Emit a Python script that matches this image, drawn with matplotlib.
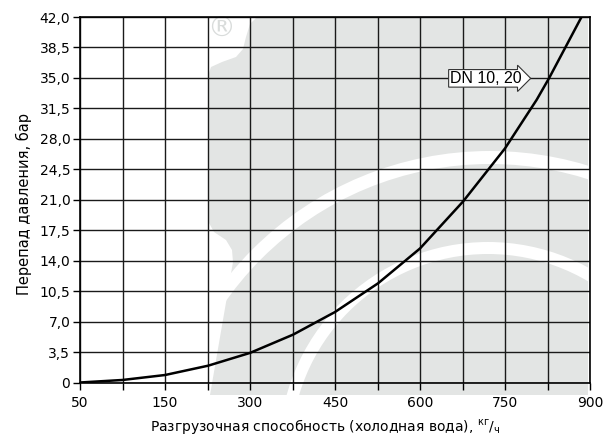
import matplotlib
matplotlib.use("Agg")
import matplotlib.pyplot as plt
from matplotlib.transforms import Affine2D
from matplotlib.patches import Polygon, Circle
from matplotlib.ticker import FixedLocator

# ---- data ----
flow = [0, 75, 150, 226, 300, 376, 450, 526, 600, 676, 750, 806, 828, 885]
dp = [0, 0.29, 0.86, 1.93, 3.4, 5.5, 8.1, 11.4, 15.4, 20.8, 26.9, 32.5, 35.0, 42.0]
x_major = [0, 150, 300, 450, 600, 750, 900]
x_major_labels = ["50", "150", "300", "450", "600", "750", "900"]
x_minor = [75, 225, 375, 525, 675, 825]
y_ticks = [0, 3.5, 7, 10.5, 14, 17.5, 21, 24.5, 28, 31.5, 35, 38.5, 42]
y_labels = ["0", "3,5", "7,0", "10,5", "14,0", "17,5", "21,0", "24,5", "28,0",
            "31,5", "35,0", "38,5", "42,0"]
series_label = "DN 10, 20"
label_pos = (716, 34.95)

W, H = 604, 438
fig = plt.figure(figsize=(W / 100, H / 100), dpi=100)
ax = fig.add_axes([80 / W, (H - 382.5) / H, 510 / W, 365.5 / H])
ax.set_xlim(0, 900)
ax.set_ylim(0, 42)

# pixel transform (y down) for the background watermark
T = Affine2D().scale(1 / W, -1 / H).translate(0, 1) + fig.transFigure

grey = "#e3e5e4"
wm_pts = [(257, 17), (588, 17), (588, 395), (210, 395), (233, 262), (232, 250),
          (226, 240), (214, 232), (209, 223), (208, 212), (208, 76), (211, 67),
          (222, 62), (236, 57), (243, 49), (246, 37), (250, 24)]
ax.add_patch(Polygon(wm_pts, closed=True, facecolor=grey, edgecolor="none",
                     transform=T, clip_on=False, zorder=0.2))
ax.add_patch(Circle((490, 487), 329.5, fill=False, edgecolor="white",
                    linewidth=13 * 0.72, transform=T, clip_on=False, zorder=0.3))
ax.add_patch(Circle((488, 451), 203, fill=False, edgecolor="white",
                    linewidth=12 * 0.72, transform=T, clip_on=False, zorder=0.3))
ax.text(221, 29, "®", transform=T, fontsize=20, color="#d9dcdb",
        ha="center", va="center", zorder=0.4)

# ticks & grid
ax.xaxis.set_major_locator(FixedLocator(x_major))
ax.xaxis.set_minor_locator(FixedLocator(x_minor))
ax.set_xticklabels(x_major_labels)
ax.set_yticks(y_ticks)
ax.set_yticklabels(y_labels)
ax.grid(which="both", axis="x", color="#1a1a1a", linewidth=1.0, zorder=1.5)
ax.grid(which="major", axis="y", color="#1a1a1a", linewidth=1.0, zorder=1.5)

ax.tick_params(axis="x", which="both", direction="out", length=5, width=1.0,
               labelsize=10, pad=5, colors="black")
ax.tick_params(axis="y", which="major", direction="out", length=5, width=1.0,
               labelsize=10, pad=2)
for s in ax.spines.values():
    s.set_linewidth(1.2)
    s.set_color("black")

ax.plot(flow, dp, color="black", linewidth=1.8, solid_joinstyle="round", zorder=3)

ax.text(label_pos[0], label_pos[1], series_label, ha="center", va="center",
        fontsize=11.5, family=["Liberation Sans", "DejaVu Sans"],
        bbox=dict(boxstyle="rarrow,pad=0.08", fc="white", ec="#333333", lw=0.8),
        zorder=4)

ax.set_xlabel("Разгрузочная способность (холодная вода), $^{\\mathrm{кг}}/_{\\mathrm{ч}}$",
              fontsize=10)
ax.xaxis.set_label_coords(0.48, -0.095)
ax.set_ylabel("Перепад давления, бар", fontsize=10.5)
ax.yaxis.set_label_coords(-0.094, 0.489)

fig.savefig("out.png", dpi=100)
